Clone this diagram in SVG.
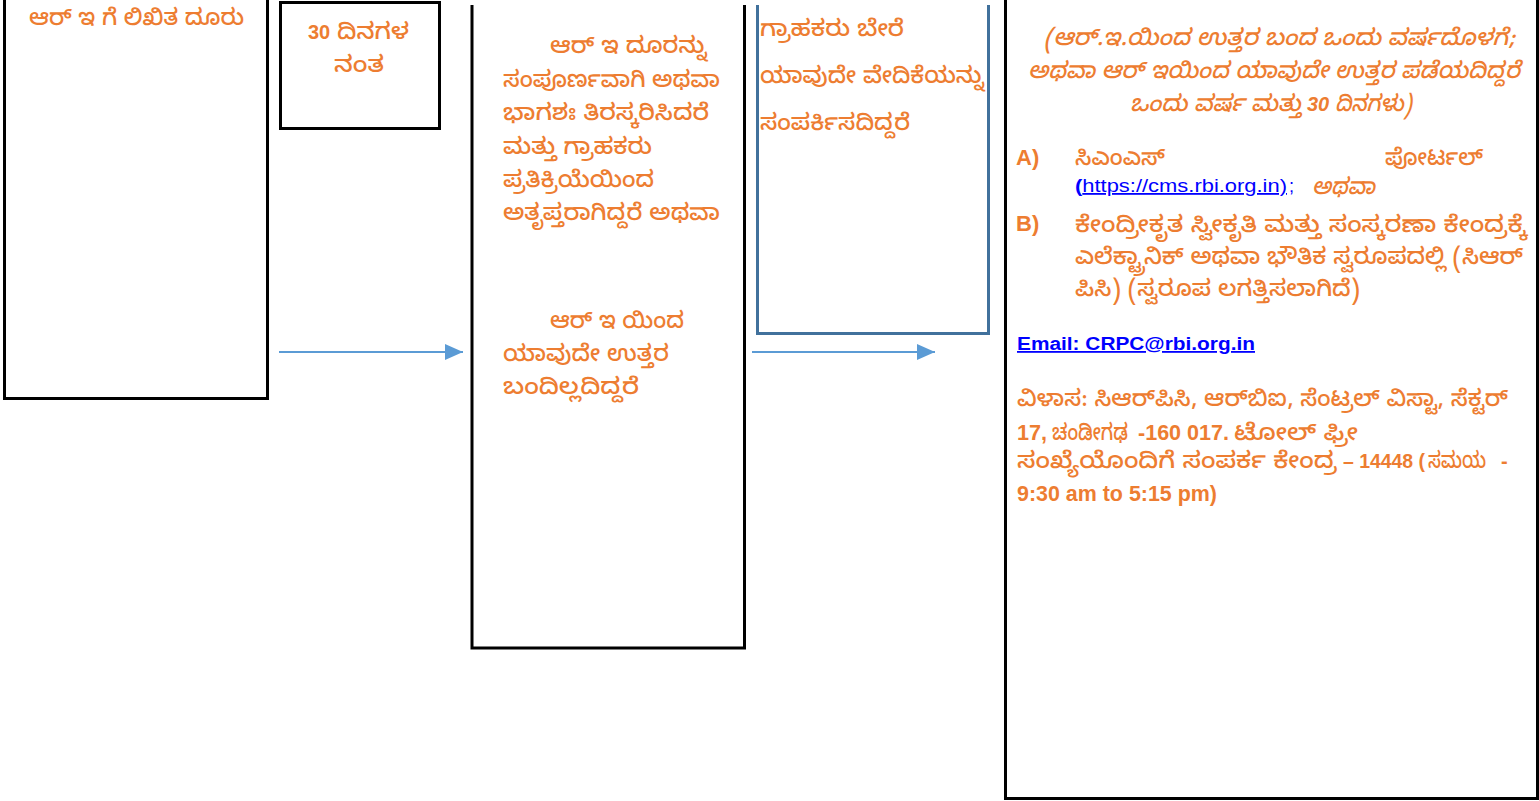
<svg xmlns="http://www.w3.org/2000/svg" width="1539" height="801" viewBox="0 0 1539 801">
<style>
.box{fill:none;stroke:#000;stroke-width:3}
.bbox{fill:none;stroke:#41719C;stroke-width:3}
.kn{font-family:"Noto Sans Kannada","Noto Sans","Noto Sans CJK SC",sans-serif;font-size:23px;fill:#ED7D31;font-weight:500}
.ar{font-family:"Liberation Sans",Arial,sans-serif;font-weight:bold;fill:#ED7D31;font-size:20px}
.ab{font-family:"Liberation Sans",Arial,sans-serif;font-weight:bold;fill:#ED7D31;font-size:22px}
.it{font-style:italic}
.conn{stroke:#5B9BD5;stroke-width:2;fill:none}
.lnk{font-family:"Liberation Sans",Arial,sans-serif;fill:#0000FF;font-size:18px;text-decoration:underline}
</style>
<defs>
<marker id="ah" viewBox="0 0 10 10" refX="10" refY="5" markerWidth="18" markerHeight="16" markerUnits="userSpaceOnUse" orient="auto" preserveAspectRatio="none">
<path d="M0,0 L10,5 L0,10 Z" fill="#5B9BD5"/>
</marker>
</defs>
<rect width="1539" height="801" fill="#fff"/>
<g id="node1">
<path class="box" d="M4.5,0 V398.5 H267.5 V0"/>
<text class="kn" x="29" y="25" textLength="215" lengthAdjust="spacingAndGlyphs">ಆರ್ ಇ ಗೆ ಲಿಖಿತ ದೂರು</text>
</g>
<g id="node2">
<rect class="box" x="280.5" y="2.5" width="159" height="126"/>
<text class="ar" x="308" y="39">30</text>
<text class="kn" x="337" y="39" textLength="72" lengthAdjust="spacingAndGlyphs">ದಿನಗಳ</text>
<text class="kn" x="334" y="72" textLength="50" lengthAdjust="spacingAndGlyphs">ನಂತ</text>
</g>
<g id="node3">
<path class="box" d="M472,5 V648 H744.5 V5"/>
<text class="kn" x="550" y="53" textLength="157" lengthAdjust="spacingAndGlyphs">ಆರ್ ಇ ದೂರನ್ನು</text>
<text class="kn" x="503" y="86.5" textLength="217" lengthAdjust="spacingAndGlyphs">ಸಂಪೂರ್ಣವಾಗಿ ಅಥವಾ</text>
<text class="kn" x="503" y="120" textLength="206" lengthAdjust="spacingAndGlyphs">ಭಾಗಶಃ ತಿರಸ್ಕರಿಸಿದರೆ</text>
<text class="kn" x="503" y="153.5" textLength="149" lengthAdjust="spacingAndGlyphs">ಮತ್ತು ಗ್ರಾಹಕರು</text>
<text class="kn" x="503" y="187" textLength="151" lengthAdjust="spacingAndGlyphs">ಪ್ರತಿಕ್ರಿಯೆಯಿಂದ</text>
<text class="kn" x="503" y="220" textLength="217" lengthAdjust="spacingAndGlyphs">ಅತೃಪ್ತರಾಗಿದ್ದರೆ ಅಥವಾ</text>
<text class="kn" x="550" y="328" textLength="134" lengthAdjust="spacingAndGlyphs">ಆರ್ ಇ ಯಿಂದ</text>
<text class="kn" x="503" y="361" textLength="166" lengthAdjust="spacingAndGlyphs">ಯಾವುದೇ ಉತ್ತರ</text>
<text class="kn" x="503" y="394" textLength="136" lengthAdjust="spacingAndGlyphs">ಬಂದಿಲ್ಲದಿದ್ದರೆ</text>
</g>
<g id="node4">
<path class="bbox" d="M757.5,5 V333.5 H988.5 V5"/>
<text class="kn" x="760" y="36" textLength="144" lengthAdjust="spacingAndGlyphs">ಗ್ರಾಹಕರು ಬೇರೆ</text>
<text class="kn" x="760" y="83" textLength="224" lengthAdjust="spacingAndGlyphs">ಯಾವುದೇ ವೇದಿಕೆಯನ್ನು</text>
<text class="kn" x="760" y="130" textLength="150" lengthAdjust="spacingAndGlyphs">ಸಂಪರ್ಕಿಸದಿದ್ದರೆ</text>
</g>
<g id="node5">
<path class="box" d="M1005.5,0 V798.5 H1537.5 V0"/>
<text class="kn it" x="1044" y="45" textLength="471" lengthAdjust="spacingAndGlyphs">(ಆರ್.ಇ.ಯಿಂದ ಉತ್ತರ ಬಂದ ಒಂದು ವರ್ಷದೊಳಗೆ;</text>
<text class="kn it" x="1028" y="78" textLength="492" lengthAdjust="spacingAndGlyphs">ಅಥವಾ ಆರ್ ಇಯಿಂದ ಯಾವುದೇ ಉತ್ತರ ಪಡೆಯದಿದ್ದರೆ</text>
<text class="kn it" x="1130" y="111" textLength="172" lengthAdjust="spacingAndGlyphs">ಒಂದು ವರ್ಷ ಮತ್ತು</text>
<text class="ar it" x="1307" y="111">30</text>
<text class="kn it" x="1335" y="111" textLength="77" lengthAdjust="spacingAndGlyphs">ದಿನಗಳು)</text>
<text class="ab" x="1016" y="165">A)</text>
<text class="kn" x="1075" y="165" textLength="90" lengthAdjust="spacingAndGlyphs">ಸಿಎಂಎಸ್</text>
<text class="kn" x="1385" y="165" textLength="98" lengthAdjust="spacingAndGlyphs">ಪೋರ್ಟಲ್</text>
<text class="lnk" x="1075" y="192" textLength="212" lengthAdjust="spacingAndGlyphs"><tspan font-weight="bold">(</tspan>https://cms.rbi.org.in)</text>
<text class="lnk" x="1289" y="192" style="text-decoration:none">;</text>
<text class="kn it" x="1312" y="194" textLength="63" lengthAdjust="spacingAndGlyphs">ಅಥವಾ</text>
<text class="ab" x="1016" y="231">B)</text>
<text class="kn" x="1075" y="232" textLength="452" lengthAdjust="spacingAndGlyphs">ಕೇಂದ್ರೀಕೃತ ಸ್ವೀಕೃತಿ ಮತ್ತು ಸಂಸ್ಕರಣಾ ಕೇಂದ್ರಕ್ಕೆ</text>
<text class="kn" x="1075" y="264" textLength="448" lengthAdjust="spacingAndGlyphs">ಎಲೆಕ್ಟ್ರಾನಿಕ್ ಅಥವಾ ಭೌತಿಕ ಸ್ವರೂಪದಲ್ಲಿ (ಸಿಆರ್</text>
<text class="kn" x="1075" y="296" textLength="285" lengthAdjust="spacingAndGlyphs">ಪಿಸಿ) (ಸ್ವರೂಪ ಲಗತ್ತಿಸಲಾಗಿದೆ)</text>
<text class="lnk" x="1017" y="350" font-weight="bold" textLength="238" lengthAdjust="spacingAndGlyphs">Email: CRPC@rbi.org.in</text>
<text class="kn" x="1017" y="406" textLength="491" lengthAdjust="spacingAndGlyphs">ವಿಳಾಸ: ಸಿಆರ್‌ಪಿಸಿ, ಆರ್‌ಬಿಐ, ಸೆಂಟ್ರಲ್ ವಿಸ್ಟಾ, ಸೆಕ್ಟರ್</text>
<text class="ar" x="1017" y="440" style="font-size:22px" textLength="30" lengthAdjust="spacingAndGlyphs">17,</text>
<text class="kn" x="1052" y="440" textLength="76" lengthAdjust="spacingAndGlyphs">ಚಂಡೀಗಢ</text>
<text class="ar" x="1138" y="440" style="font-size:22px" textLength="91" lengthAdjust="spacingAndGlyphs">-160 017.</text>
<text class="kn" x="1234" y="440" textLength="124" lengthAdjust="spacingAndGlyphs">ಟೋಲ್ ಫ್ರೀ</text>
<text class="kn" x="1017" y="468" textLength="320" lengthAdjust="spacingAndGlyphs">ಸಂಖ್ಯೆಯೊಂದಿಗೆ ಸಂಪರ್ಕ ಕೇಂದ್ರ</text>
<text class="ar" x="1343" y="468" textLength="82" lengthAdjust="spacingAndGlyphs">– 14448 (</text>
<text class="kn" x="1428" y="468" textLength="58" lengthAdjust="spacingAndGlyphs">ಸಮಯ</text>
<text class="ar" x="1501" y="468">-</text>
<text class="ar" x="1017" y="501" style="font-size:21.5px" textLength="200" lengthAdjust="spacingAndGlyphs">9:30 am to 5:15 pm)</text>
</g>
<g id="connectors">
<line class="conn" x1="279" y1="352" x2="463" y2="352" marker-end="url(#ah)"/>
<line class="conn" x1="752" y1="352" x2="935" y2="352" marker-end="url(#ah)"/>
</g>
</svg>
